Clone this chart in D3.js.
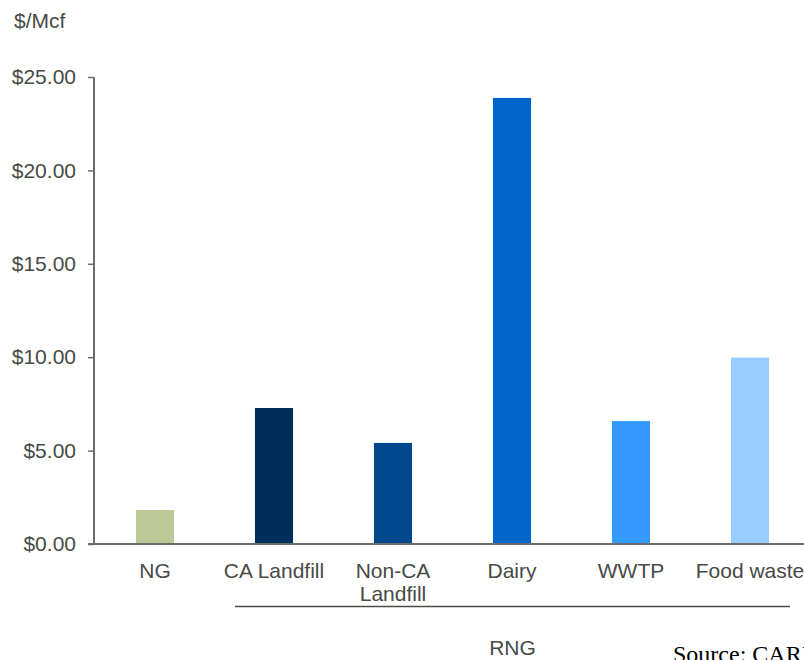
<!DOCTYPE html>
<html>
<head>
<meta charset="utf-8">
<script src="https://cdn.jsdelivr.net/npm/d3@7"></script>
<style>
  html, body { margin: 0; padding: 0; background: #fff; overflow: hidden; }
  svg { display: block; }
</style>
</head>
<body>
<script>
// Cost of gas by feedstock, $/Mcf
const categories = ["NG", "CA Landfill", "Non-CA Landfill", "Dairy", "WWTP", "Food waste"];
const categoryLines = [["NG"], ["CA Landfill"], ["Non-CA", "Landfill"], ["Dairy"], ["WWTP"], ["Food waste"]];
const values = [1.82, 7.28, 5.41, 23.88, 6.58, 9.98];
const barColors = ["#bcc896", "#002f5c", "#00478c", "#0066cc", "#3399ff", "#99ccff"];
const yTicks = [0, 5, 10, 15, 20, 25];
const groupLabel = "RNG";
const groupMembers = ["CA Landfill", "Food waste"];

const W = 804, H = 660;
const textColor = "#474a45";
const axisColor = "#6b6d68";
const font = "'Liberation Sans', Arial, sans-serif";
const fontSize = 21;

const svg = d3.select("body").append("svg").attr("width", W).attr("height", H);

const x = d3.scaleBand().domain(categories).range([95.5, 809.5])
  .paddingInner(0.68).paddingOuter(0.34);
const y = d3.scaleLinear().domain([0, 25]).range([544, 77]);

// bars
svg.append("g").selectAll("rect").data(categories).join("rect")
  .attr("x", d => x(d))
  .attr("width", x.bandwidth())
  .attr("y", (d, i) => y(values[i]))
  .attr("height", (d, i) => y(0) - y(values[i]))
  .attr("fill", (d, i) => barColors[i]);

// y axis
const yAxis = svg.append("g").attr("transform", "translate(94,0)")
  .call(d3.axisLeft(y).tickValues(yTicks).tickSize(6).tickPadding(12)
    .tickFormat(d => "$" + d3.format(".2f")(d)));
yAxis.select(".domain").attr("stroke", axisColor).attr("stroke-width", 2).attr("d", `M0,${y(25)}V${y(0)}`);
yAxis.selectAll(".tick line").attr("stroke", axisColor).attr("stroke-width", 1.5);
yAxis.selectAll(".tick text").attr("fill", textColor).attr("font-family", font).attr("font-size", fontSize);

// x axis baseline
svg.append("line").attr("x1", 88).attr("x2", W).attr("y1", y(0)).attr("y2", y(0))
  .attr("stroke", axisColor).attr("stroke-width", 2);

// category labels
const labels = svg.append("g").selectAll("text").data(categories).join("text")
  .attr("x", d => x(d) + x.bandwidth() / 2)
  .attr("y", 578)
  .attr("text-anchor", "middle")
  .attr("fill", textColor).attr("font-family", font).attr("font-size", fontSize);
labels.selectAll("tspan").data((d, i) => categoryLines[i]).join("tspan")
  .attr("x", function() { return d3.select(this.parentNode).attr("x"); })
  .attr("dy", (d, i) => i === 0 ? 0 : 23)
  .text(d => d);

// RNG group bracket
const gx0 = x(groupMembers[0]) - 20;
const gx1 = x(groupMembers[1]) + x.bandwidth() + 21;
svg.append("line").attr("x1", gx0).attr("x2", gx1).attr("y1", 606.5).attr("y2", 606.5)
  .attr("stroke", "#4a4c47").attr("stroke-width", 1.5);
svg.append("text").attr("x", (gx0 + gx1) / 2).attr("y", 655)
  .attr("text-anchor", "middle")
  .attr("fill", textColor).attr("font-family", font).attr("font-size", fontSize)
  .text(groupLabel);

// unit label
svg.append("text").attr("x", 14).attr("y", 28)
  .attr("fill", textColor).attr("font-family", font).attr("font-size", fontSize)
  .text("$/Mcf");

// source note
svg.append("text").attr("x", 673).attr("y", 662)
  .attr("fill", "#000").attr("font-family", "'Liberation Serif', 'Times New Roman', serif").attr("font-size", 24)
  .text("Source: CARB");
</script>
</body>
</html>
